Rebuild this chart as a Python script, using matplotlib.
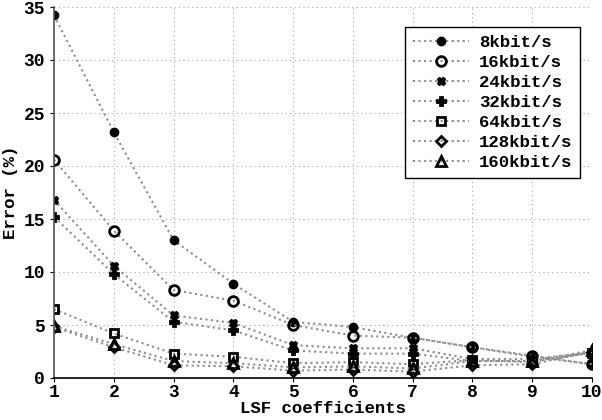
import matplotlib
matplotlib.use("Agg")
import matplotlib.pyplot as plt

plt.rcParams['font.family'] = ['Liberation Mono', 'DejaVu Sans Mono']
plt.rcParams['font.weight'] = 'bold'

coeffs = [1, 2, 3, 4, 5, 6, 7, 8, 9, 10]

err_8 = [34.2, 23.2, 13.0, 8.9, 5.3, 4.8, 3.8, 2.9, 2.0, 1.3]
err_16 = [20.6, 13.9, 8.3, 7.3, 5.0, 4.0, 3.8, 2.9, 2.1, 1.3]
err_24 = [16.8, 10.6, 5.9, 5.2, 3.1, 2.8, 2.8, 1.8, 1.8, 2.4]
err_32 = [15.2, 9.8, 5.3, 4.5, 2.6, 2.3, 2.3, 1.6, 1.6, 2.4]
err_64 = [6.5, 4.2, 2.3, 2.0, 1.4, 1.5, 1.3, 1.7, 1.5, 2.4]
err_128 = [4.8, 2.9, 1.2, 1.1, 0.7, 0.8, 0.6, 1.2, 1.3, 2.5]
err_160 = [4.9, 3.2, 1.6, 1.4, 1.0, 1.1, 0.9, 1.6, 1.6, 2.6]

series = [
    ("8kbit/s", err_8, "o", "k", 5),
    ("16kbit/s", err_16, "o", "none", 7),
    ("24kbit/s", err_24, "X", "k", 5),
    ("32kbit/s", err_32, "P", "k", 6),
    ("64kbit/s", err_64, "s", "none", 5.5),
    ("128kbit/s", err_128, "D", "none", 5.5),
    ("160kbit/s", err_160, "^", "none", 7.5),
]

fig = plt.figure(figsize=(6.02, 4.2), dpi=100)
ax = fig.add_axes([54 / 602, 42 / 420, 538 / 602, 371 / 420])

for name, vals, mk, fc, ms in series:
    ax.plot(coeffs, vals, linestyle=':', color='#8c8c8c', linewidth=1.5,
            marker=mk, markersize=ms, markerfacecolor=fc,
            markeredgecolor='k', markeredgewidth=2, label=name)

ax.set_xlim(1, 10)
ax.set_ylim(0, 35)
ax.set_xticks(coeffs)
ax.set_yticks(range(0, 36, 5))
ax.grid(True, linestyle=(0, (1, 3)), color='#aaaaaa', linewidth=0.8)
ax.spines['top'].set_visible(False)
ax.spines['right'].set_visible(False)
ax.spines['left'].set_linewidth(1.2)
ax.spines['left'].set_color('#555555')
ax.spines['bottom'].set_linewidth(1.2)
ax.tick_params(labelsize=13, direction='out', length=3)
ax.tick_params(axis='x', pad=1)
for lab in ax.get_xticklabels() + ax.get_yticklabels():
    lab.set_fontweight('bold')

ax.set_xlabel("LSF coefficients", fontsize=12.5, fontweight='bold', labelpad=0)
ax.set_ylabel("Error (%)", fontsize=12.5, fontweight='bold', labelpad=4)

leg = ax.legend(loc='upper right', bbox_to_anchor=(0.978, 0.946), fontsize=12.5,
                fancybox=False, framealpha=1, edgecolor='k',
                handlelength=3.2, handletextpad=0.6, labelspacing=0.28,
                borderpad=0.45, borderaxespad=0)
leg.get_frame().set_linewidth(1.0)
for t in leg.get_texts():
    t.set_fontweight('bold')

fig.savefig("out.png", dpi=100)
